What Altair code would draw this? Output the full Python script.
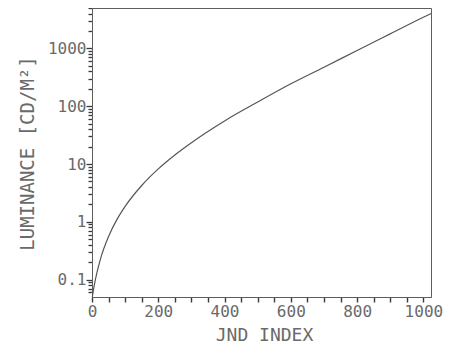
import altair as alt
import pandas as pd

# values (JND index vs. luminance)
jnd_index = [1, 5, 10, 25, 50, 75, 100, 150, 200, 250, 300, 400, 500, 600, 700, 800, 900, 1000, 1023]
luminance = [0.05, 0.07, 0.099, 0.222, 0.557, 1.09, 1.85, 4.25, 8.23, 14.35, 23.4, 55.6, 118, 244, 473, 920, 1786, 3467, 3993]

x_ticks = list(range(0, 1001, 50))
y_ticks = [0.06, 0.07, 0.08, 0.09, 0.1, 0.2, 0.3, 0.4, 0.5, 0.6, 0.7, 0.8, 0.9,
           1, 2, 3, 4, 5, 6, 7, 8, 9, 10, 20, 30, 40, 50, 60, 70, 80, 90,
           100, 200, 300, 400, 500, 600, 700, 800, 900, 1000, 2000, 3000, 4000, 5000]

df = pd.DataFrame({"j": jnd_index, "L": luminance})

TXT = "#6a6a6a"
LINE = "#5e5e5e"
TICK = "#3a3a3a"
FONT = "DejaVu Sans Mono"

major_test = "abs(log(datum.value)/LN10 - round(log(datum.value)/LN10)) < 1e-6"

chart = alt.Chart(df).mark_line(color="#555555", strokeWidth=1.2, interpolate="monotone").encode(
    x=alt.X("j:Q",
            scale=alt.Scale(domain=[0, 1023], nice=False, zero=False),
            axis=alt.Axis(title="JND INDEX", values=x_ticks, grid=False,
                          labelExpr="datum.value % 200 == 0 ? datum.label : ''",
                          format="d", ticks=True, tickSize=5, tickWidth=1.4, tickOpacity=1,
                          tickColor=TICK, domainColor=LINE,
                          labelFont=FONT, labelFontSize=16, labelColor=TXT, labelPadding=1,
                          labelOverlap=False, labelFlush=False,
                          titleFont=FONT, titleFontSize=18, titleFontWeight="normal",
                          titleColor=TXT, titleX=172, titleY=38, titleBaseline="middle")),
    y=alt.Y("L:Q",
            scale=alt.Scale(type="log", domain=[0.05, 5000], nice=False),
            axis=alt.Axis(title="LUMINANCE [CD/M²]", values=y_ticks, grid=False,
                          labelExpr=major_test + " ? datum.label : ''",
                          format="~g", ticks=True, tickWidth=1.3, tickOpacity=1,
                          tickSize={"condition": {"test": major_test, "value": 6}, "value": 4},
                          tickColor=TICK, domainColor=LINE,
                          labelFont=FONT, labelFontSize=16, labelColor=TXT, labelPadding=0,
                          labelOverlap=False, labelFlush=False,
                          titleFont=FONT, titleFontSize=19, titleFontWeight="normal",
                          titleColor=TXT, titleAngle=-90, titleX=-65, titleY=145,
                          titleAlign="center", titleBaseline="middle")),
).properties(
    width=339, height=289,
    autosize=alt.AutoSizeParams(type="none"),
    padding={"left": 84, "top": 0, "right": 14, "bottom": 50},
).configure_view(stroke=LINE, strokeWidth=1)

chart.save("out.html", embed_options={"renderer": "svg", "actions": False})
